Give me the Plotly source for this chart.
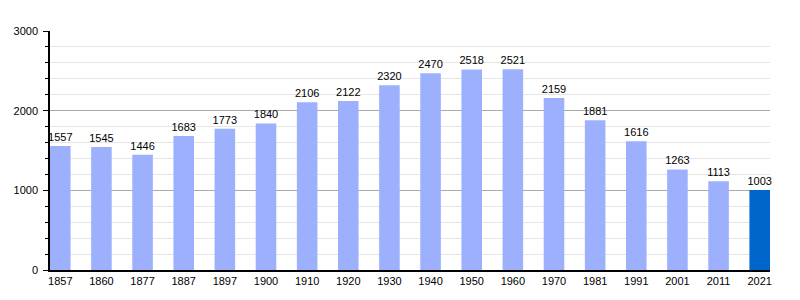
import plotly.graph_objects as go

years = ["1857", "1860", "1877", "1887", "1897", "1900", "1910", "1920", "1930",
         "1940", "1950", "1960", "1970", "1981", "1991", "2001", "2011", "2021"]
population = [1557, 1545, 1446, 1683, 1773, 1840, 2106, 2122, 2320,
              2470, 2518, 2521, 2159, 1881, 1616, 1263, 1113, 1003]

light = "#9db0fe"
dark = "#0066cc"
colors = [light] * (len(years) - 1) + [dark]

fig = go.Figure(go.Bar(
    x=list(range(len(years))),
    y=population,
    width=0.5,
    marker=dict(color=colors, line=dict(width=0)),
    text=[str(v) for v in population],
    textposition="outside",
    constraintext="none",
    textfont=dict(family="Liberation Sans, Arial", size=11, color="black"),
    cliponaxis=False,
    hoverinfo="skip",
))

fig.update_layout(
    width=800, height=300,
    margin=dict(l=50, r=30, t=31, b=30),
    paper_bgcolor="white", plot_bgcolor="white",
    showlegend=False,
    font=dict(family="Liberation Sans, Arial", size=11, color="black"),
    xaxis=dict(
        range=[-0.25, len(years) - 0.75],
        tickmode="array",
        tickvals=list(range(len(years))),
        ticktext=years,
        showgrid=False,
        showline=True, linecolor="black", linewidth=1.5,
        ticks="", zeroline=False,
        tickfont=dict(size=11, color="black"),
    ),
    yaxis=dict(
        range=[0, 3000],
        tickmode="array",
        tickvals=[0, 1000, 2000, 3000],
        ticktext=["0", "1000", "2000", "3000"],
        showgrid=True, gridcolor="#aaaaaa", gridwidth=1,
        showline=True, linecolor="black", linewidth=1.5,
        ticks="outside", ticklen=5, tickcolor="black", tickwidth=1,
        zeroline=False,
        minor=dict(dtick=200, tick0=0, showgrid=True, gridcolor="#e6e6e6",
                   ticks="outside", ticklen=3, tickcolor="black", tickwidth=1),
        tickfont=dict(size=11, color="black"),
        ticklabelstandoff=3,
    ),
)

fig.write_html("out.html")
